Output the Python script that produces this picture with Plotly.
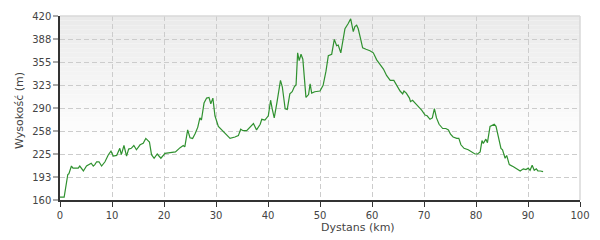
import plotly.graph_objects as go

km = [0, 0.8, 1.5, 1.7, 2.2, 2.5, 3.5, 3.8, 4.5, 5.1, 6.0, 6.4, 6.7, 7.05, 7.5, 8.0, 8.65, 9.3, 9.8,
      10.25, 10.9, 11.5, 11.8, 12.3, 12.8, 13.2, 13.7, 14.2, 14.7, 15.4, 16.0, 16.5, 17.2, 17.6, 18.1,
      18.7, 19.4, 20.2, 21.2, 22.2, 23.1, 23.7, 24.0, 24.55, 25.0, 25.5, 26.0, 26.5, 26.9, 27.2, 27.7,
      28.2, 28.65, 29.0, 29.4, 29.8, 30.45, 31.4, 32.2, 32.7, 33.65, 34.3, 34.75, 35.2, 35.9, 36.5,
      37.2, 37.8, 38.5, 38.8, 39.4, 40.06, 40.5, 40.8, 41.2, 41.7, 42.2, 42.4, 42.75, 43.3, 43.7, 44.2,
      44.65, 45.06, 45.4, 45.7, 46.0, 46.35, 46.7, 47.0, 47.3, 47.8, 48.1, 48.4, 49.0, 50.0, 50.6,
      51.15, 51.6, 52.25, 52.75, 53.2, 53.5, 54.0, 54.5, 54.8, 55.4, 55.9, 56.4, 56.7, 57.05, 57.35,
      57.8, 58.2, 58.85, 59.6, 60.25, 60.9, 61.5, 62.2, 62.8, 63.5, 64.2, 64.75, 65.4, 65.9, 66.15,
      66.6, 67.2, 67.4, 67.8, 68.3, 68.9, 69.55, 70.2, 70.6, 71.15, 71.6, 72.0, 72.4, 72.9, 73.6, 74.2,
      74.7, 75.1, 75.6, 76.3, 76.7, 77.1, 77.7, 78.5, 79.2, 79.8, 80.3, 80.8, 81.15, 81.4, 81.9, 82.2,
      82.7, 83.0, 83.5, 83.85, 84.3, 84.8, 85.1, 85.6, 85.9, 86.4, 87.2, 87.8, 88.5, 89.1, 89.6, 90.05,
      90.4, 90.8, 91.2, 91.6, 91.9, 92.4, 92.9]

elev = [164, 164, 196, 197, 208, 205, 205, 208, 201, 208, 212, 208, 210, 214, 214, 208, 214, 224, 229,
        222, 223, 233, 224, 237, 222, 232, 233, 237, 231, 238, 240, 247, 242, 224, 219,
        225, 219, 226, 227, 228, 234, 237, 235, 259, 248, 247, 254, 263, 276, 273, 297,
        304, 305, 296, 304, 279, 264, 257, 252, 247, 249, 251, 260, 258, 258, 263,
        268, 259, 267, 274, 273, 279, 301, 289, 276, 297, 320, 329, 320, 289, 288, 310,
        313, 320, 323, 368, 357, 366, 359, 329, 305, 309, 324, 311, 313, 314, 322,
        342, 364, 366, 387, 378, 379, 368, 388, 402, 409, 416, 398, 405, 407, 402,
        388, 375, 373, 371, 368, 358, 352, 345, 336, 329, 329, 322, 314, 310, 314,
        311, 304, 299, 301, 297, 292, 287, 280, 279, 274, 276, 289, 276, 267, 261, 261,
        259, 253, 249, 247, 247, 238, 233, 231, 228, 225, 225, 228, 244, 240, 246, 241,
        264, 265, 267, 264, 251, 233, 231, 219, 223, 210, 207, 204, 201, 204, 203, 205,
        202, 209, 202, 204, 201, 201, 200]

assert len(km) == len(elev)

y_tickvals = [160, 192.5, 225, 257.5, 290, 322.5, 355, 387.5, 420]
y_ticktext = ["160", "193", "225", "258", "290", "323", "355", "388", "420"]
x_tickvals = [0, 10, 20, 30, 40, 50, 60, 70, 80, 90, 100]

FONT = "DejaVu Sans"

fig = go.Figure()
fig.add_trace(go.Scatter(x=km, y=elev, mode="lines",
                         line=dict(color="#2f912f", width=1.2), hoverinfo="skip"))

# gradient background made of strips (top grey -> white)
shapes = []
n = 40
for i in range(n):
    f0 = i / n
    f1 = (i + 1) / n
    t = (f0 + f1) / 2
    k = min(1.0, t / 0.7)
    c = int(round(234 + (255 - 234) * k))
    shapes.append(dict(type="rect", xref="x domain", yref="y domain",
                       x0=0, x1=1, y0=1 - f1, y1=1 - f0,
                       fillcolor=f"rgb({c},{c},{c})", line=dict(width=0), layer="below"))
# light border top & right
shapes.append(dict(type="line", xref="x domain", yref="y domain", x0=0, x1=1, y0=1, y1=1,
                   line=dict(color="#d8d8d8", width=1.5), layer="above"))
shapes.append(dict(type="line", xref="x domain", yref="y domain", x0=1, x1=1, y0=0, y1=1,
                   line=dict(color="#d8d8d8", width=1.5), layer="above"))

fig.update_layout(
    width=600, height=240,
    margin=dict(l=60, r=20, t=10, b=40),
    paper_bgcolor="white", plot_bgcolor="white",
    showlegend=False,
    shapes=shapes,
    font=dict(family=FONT, size=10, color="#444"),
    xaxis=dict(range=[0, 100], tickvals=x_tickvals, showgrid=True, gridcolor="#cccccc",
               griddash="5px,3px", gridwidth=1, zeroline=False, showline=True,
               linecolor="#333", linewidth=1.5, ticks="outside", ticklen=5, tickcolor="#333",
               tickfont=dict(family=FONT, size=10, color="#444")),
    yaxis=dict(range=[160, 420], tickvals=y_tickvals, ticktext=y_ticktext, showgrid=True,
               gridcolor="#cccccc", griddash="5px,3px", gridwidth=1, zeroline=False,
               showline=True, linecolor="#333", linewidth=1.5, ticks="outside", ticklen=5,
               tickcolor="#aaa", tickwidth=2,
               tickfont=dict(family=FONT, size=10, color="#444")),
    annotations=[
        dict(text="Dystans (km)", xref="paper", yref="paper", x=(358 - 60) / 520, y=-(228 - 200) / 190,
             xanchor="center", yanchor="middle", showarrow=False,
             font=dict(family=FONT, size=11, color="#444")),
        dict(text="Wysokość (m)", xref="paper", yref="paper", x=-(60 - 20) / 520, y=(200 - 108) / 190,
             xanchor="center", yanchor="middle", textangle=-90, showarrow=False,
             font=dict(family=FONT, size=11, color="#444")),
    ],
)

fig.write_html("out.html")
